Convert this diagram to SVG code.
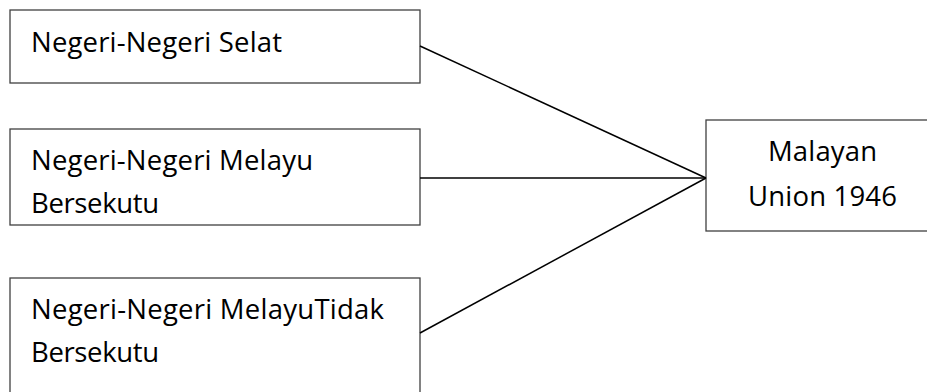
<svg xmlns="http://www.w3.org/2000/svg" width="927" height="392" viewBox="0 0 927 392">
<style>
.box{fill:#fff;stroke:#404040;stroke-width:1.3}
.t{font-family:"Open Sans",Lato,"Liberation Sans",sans-serif;font-size:27.5px;fill:#000}
.c{stroke:#000;stroke-width:1.5;fill:none}
</style>
<rect width="927" height="392" fill="#fff"/>
<g id="n1"><rect class="box" x="10" y="10" width="410" height="73"/><text class="t" x="31" y="51.5" textLength="251">Negeri-Negeri Selat</text></g>
<g id="n2"><rect class="box" x="10" y="129" width="410" height="96"/><text class="t" x="31" y="170" textLength="282">Negeri-Negeri Melayu</text><text class="t" x="31" y="213" textLength="128">Bersekutu</text></g>
<g id="n3"><rect class="box" x="10" y="278" width="410" height="130"/><text class="t" x="31" y="319" textLength="353">Negeri-Negeri MelayuTidak</text><text class="t" x="31" y="361.5" textLength="128">Bersekutu</text></g>
<g id="n4"><rect class="box" x="706" y="120" width="240" height="111"/><text class="t" x="822.5" y="160.5" text-anchor="middle" textLength="109">Malayan</text><text class="t" x="822.5" y="206" text-anchor="middle" textLength="149">Union 1946</text></g>
<g id="connectors"><line class="c" x1="420" y1="46" x2="706" y2="178"/><line class="c" x1="420" y1="178" x2="706" y2="178"/><line class="c" x1="420" y1="333" x2="706" y2="178"/></g>
</svg>
